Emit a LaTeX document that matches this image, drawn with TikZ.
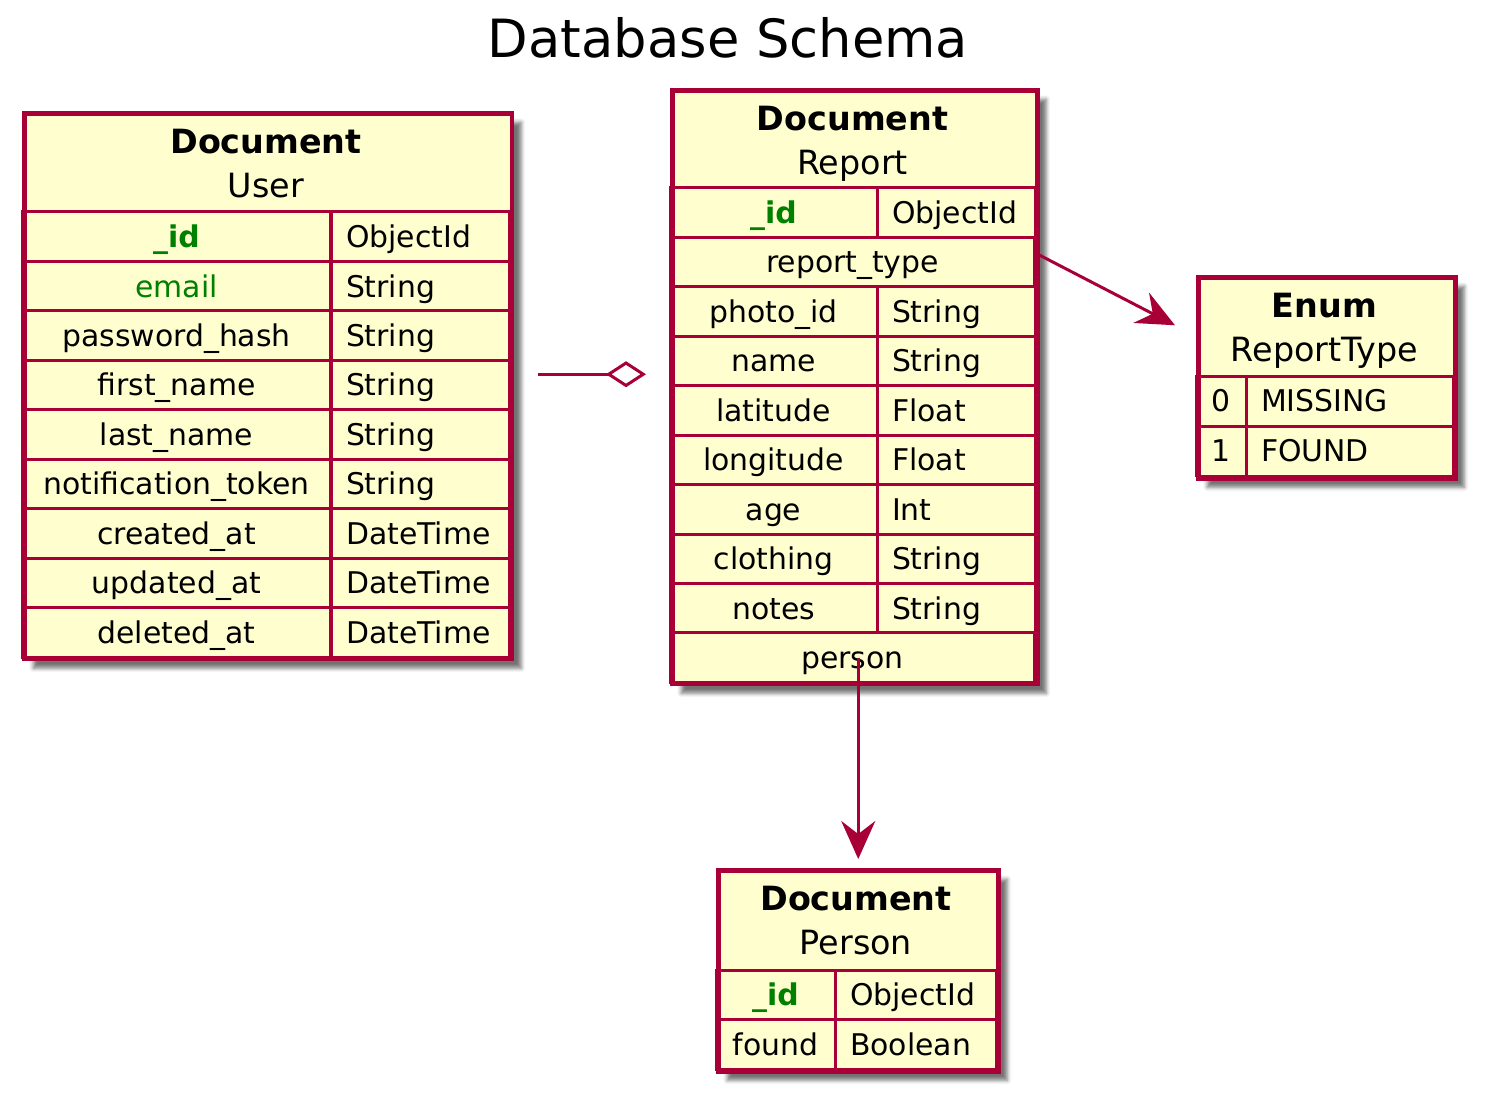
\documentclass[tikz,border=0pt]{standalone}
\usepackage{fontspec}
\setmainfont{DejaVu Sans}
\usetikzlibrary{arrows.meta,positioning,shadows.blur}

\definecolor{umlred}{HTML}{A80036}
\definecolor{umlfill}{HTML}{FEFECE}
\definecolor{keygreen}{HTML}{008000}

\newcommand{\rowfont}{\fontsize{17}{20}\selectfont}
\newcommand{\headfont}{\fontsize{19}{23}\selectfont}

\begin{document}
\begin{tikzpicture}[x=0.02cm, y=-0.02cm]
        \useasboundingbox (0,0) rectangle (1493,1109);

        % Define block styles
        \tikzstyle{docbox} = [rectangle, draw=umlred, line width=2.6pt, fill=umlfill, anchor=north west, inner sep=0pt, blur shadow={shadow xshift=0.18cm, shadow yshift=-0.18cm, shadow blur radius=0.08cm, shadow opacity=55}]
        \tikzstyle{field} = [rectangle, draw=umlred, line width=1.7pt, inner sep=0pt, text height=12.4pt, text depth=0pt, font=\rowfont]
        \tikzstyle{ftype} = [field, inner xsep=0.3cm, align=left]
        \tikzstyle{pkfield} = [field, font=\rowfont\bfseries, text=keygreen]
        \tikzstyle{head} = [anchor=base, inner sep=0pt, font=\headfont]
        \tikzstyle{kind} = [head, font=\headfont\bfseries]
        \tikzstyle{line} = [draw=umlred, line width=1.7pt]
        \tikzstyle{flow} = [line, arrows={-Stealth[length=0.76cm, width=0.68cm, inset=0.26cm, fill=umlred]}]
        \tikzstyle{aggregate} = [line, arrows={-Diamond[open, length=0.8cm, width=0.52cm]}]
        % Column sizes
        \tikzstyle{ucol} = [minimum width=6.18cm, minimum height=0.989cm]
        \tikzstyle{utyp} = [ftype, text width=2.98cm, minimum height=0.989cm]
        \tikzstyle{rcol} = [minimum width=4.14cm, minimum height=0.989cm]
        \tikzstyle{rtyp} = [ftype, text width=2.56cm, minimum height=0.989cm]
        \tikzstyle{rall} = [minimum width=7.3cm, minimum height=0.989cm]
        \tikzstyle{ecol} = [minimum width=1cm, minimum height=1cm]
        \tikzstyle{etyp} = [ftype, text width=3.54cm, minimum height=1cm]
        \tikzstyle{pcol} = [minimum width=2.38cm, minimum height=0.99cm]
        \tikzstyle{ptyp} = [ftype, text width=2.62cm, minimum height=0.99cm]

        % Title
        \node [anchor=base, inner sep=0pt, font=\fontsize{30}{34}\selectfont] (title) at (728,57) {Database Schema};

        % User
        \node [docbox, minimum width=9.76cm, minimum height=10.92cm] (user) at (22,111) {};
        \node [kind] (user_kind) at (266,153) {Document};
        \node [head] (user_name) at (266,197) {User};
        \node [pkfield, ucol] (u_id) at (176.5,236.7) {\_id};
        \node [utyp] (u_id_t) at (420.5,236.7) {ObjectId};
        \node [field, ucol, text=keygreen] (u_email) at (176.5,286.2) {email};
        \node [utyp] (u_email_t) at (420.5,286.2) {String};
        \node [field, ucol] (u_pass) at (176.5,335.6) {password\_hash};
        \node [utyp] (u_pass_t) at (420.5,335.6) {String};
        \node [field, ucol] (u_first) at (176.5,385) {first\_name};
        \node [utyp] (u_first_t) at (420.5,385) {String};
        \node [field, ucol] (u_last) at (176.5,434.5) {last\_name};
        \node [utyp] (u_last_t) at (420.5,434.5) {String};
        \node [field, ucol] (u_token) at (176.5,483.9) {notification\_token};
        \node [utyp] (u_token_t) at (420.5,483.9) {String};
        \node [field, ucol] (u_created) at (176.5,533.4) {created\_at};
        \node [utyp] (u_created_t) at (420.5,533.4) {DateTime};
        \node [field, ucol] (u_updated) at (176.5,582.8) {updated\_at};
        \node [utyp] (u_updated_t) at (420.5,582.8) {DateTime};
        \node [field, ucol] (u_deleted) at (176.5,632.3) {deleted\_at};
        \node [utyp] (u_deleted_t) at (420.5,632.3) {DateTime};

        % Report
        \node [docbox, minimum width=7.3cm, minimum height=11.88cm] (report) at (670,88) {};
        \node [kind] (report_kind) at (852.5,130) {Document};
        \node [head] (report_name) at (852.5,174) {Report};
        \node [pkfield, rcol] (r_id) at (773.5,212.7) {\_id};
        \node [rtyp] (r_id_t) at (956,212.7) {ObjectId};
        \node [field, rall] (r_rtype) at (852.5,262.1) {report\_type};
        \node [field, rcol] (r_photo) at (773.5,311.6) {photo\_id};
        \node [rtyp] (r_photo_t) at (956,311.6) {String};
        \node [field, rcol] (r_name) at (773.5,361) {name};
        \node [rtyp] (r_name_t) at (956,361) {String};
        \node [field, rcol] (r_lat) at (773.5,410.4) {latitude};
        \node [rtyp] (r_lat_t) at (956,410.4) {Float};
        \node [field, rcol] (r_lon) at (773.5,459.9) {longitude};
        \node [rtyp] (r_lon_t) at (956,459.9) {Float};
        \node [field, rcol] (r_age) at (773.5,509.3) {age};
        \node [rtyp] (r_age_t) at (956,509.3) {Int};
        \node [field, rcol] (r_cloth) at (773.5,558.8) {clothing};
        \node [rtyp] (r_cloth_t) at (956,558.8) {String};
        \node [field, rcol] (r_notes) at (773.5,608.2) {notes};
        \node [rtyp] (r_notes_t) at (956,608.2) {String};
        \node [field, rall] (r_person) at (852.5,657.6) {person};

        % ReportType
        \node [docbox, minimum width=5.14cm, minimum height=4.02cm] (rtype) at (1196,275) {};
        \node [kind] (rtype_kind) at (1324.5,317) {Enum};
        \node [head] (rtype_name) at (1324.5,361) {ReportType};
        \node [field, ecol] (e_0) at (1221,401) {0};
        \node [etyp] (e_0_t) at (1349.5,401) {MISSING};
        \node [field, ecol] (e_1) at (1221,451) {1};
        \node [etyp] (e_1_t) at (1349.5,451) {FOUND};

        % Person
        \node [docbox, minimum width=5.6cm, minimum height=4.02cm] (person) at (716,868) {};
        \node [kind] (person_kind) at (856,910) {Document};
        \node [head] (person_name) at (856,954) {Person};
        \node [pkfield, pcol] (p_id) at (775.5,994.75) {\_id};
        \node [ptyp] (p_id_t) at (915.5,994.75) {ObjectId};
        \node [field, pcol] (p_found) at (775.5,1044.25) {found};
        \node [ptyp] (p_found_t) at (915.5,1044.25) {Boolean};

        % Arrows
        \coordinate (agg_from) at ([xshift=0.48cm, yshift=0.24cm]user.east);
        \coordinate (agg_to) at ([xshift=-0.48cm]report.west |- agg_from);
        \path [aggregate] (agg_from) -- (agg_to);
        \path [flow] ([xshift=0.06cm, yshift=0.14cm]r_rtype.east) -- ([xshift=-0.42cm, yshift=1.05cm]rtype.west);
        \path [flow] (person.north |- r_person.center) -- ([yshift=0.18cm]person.north);
    \end{tikzpicture}
\end{document}
